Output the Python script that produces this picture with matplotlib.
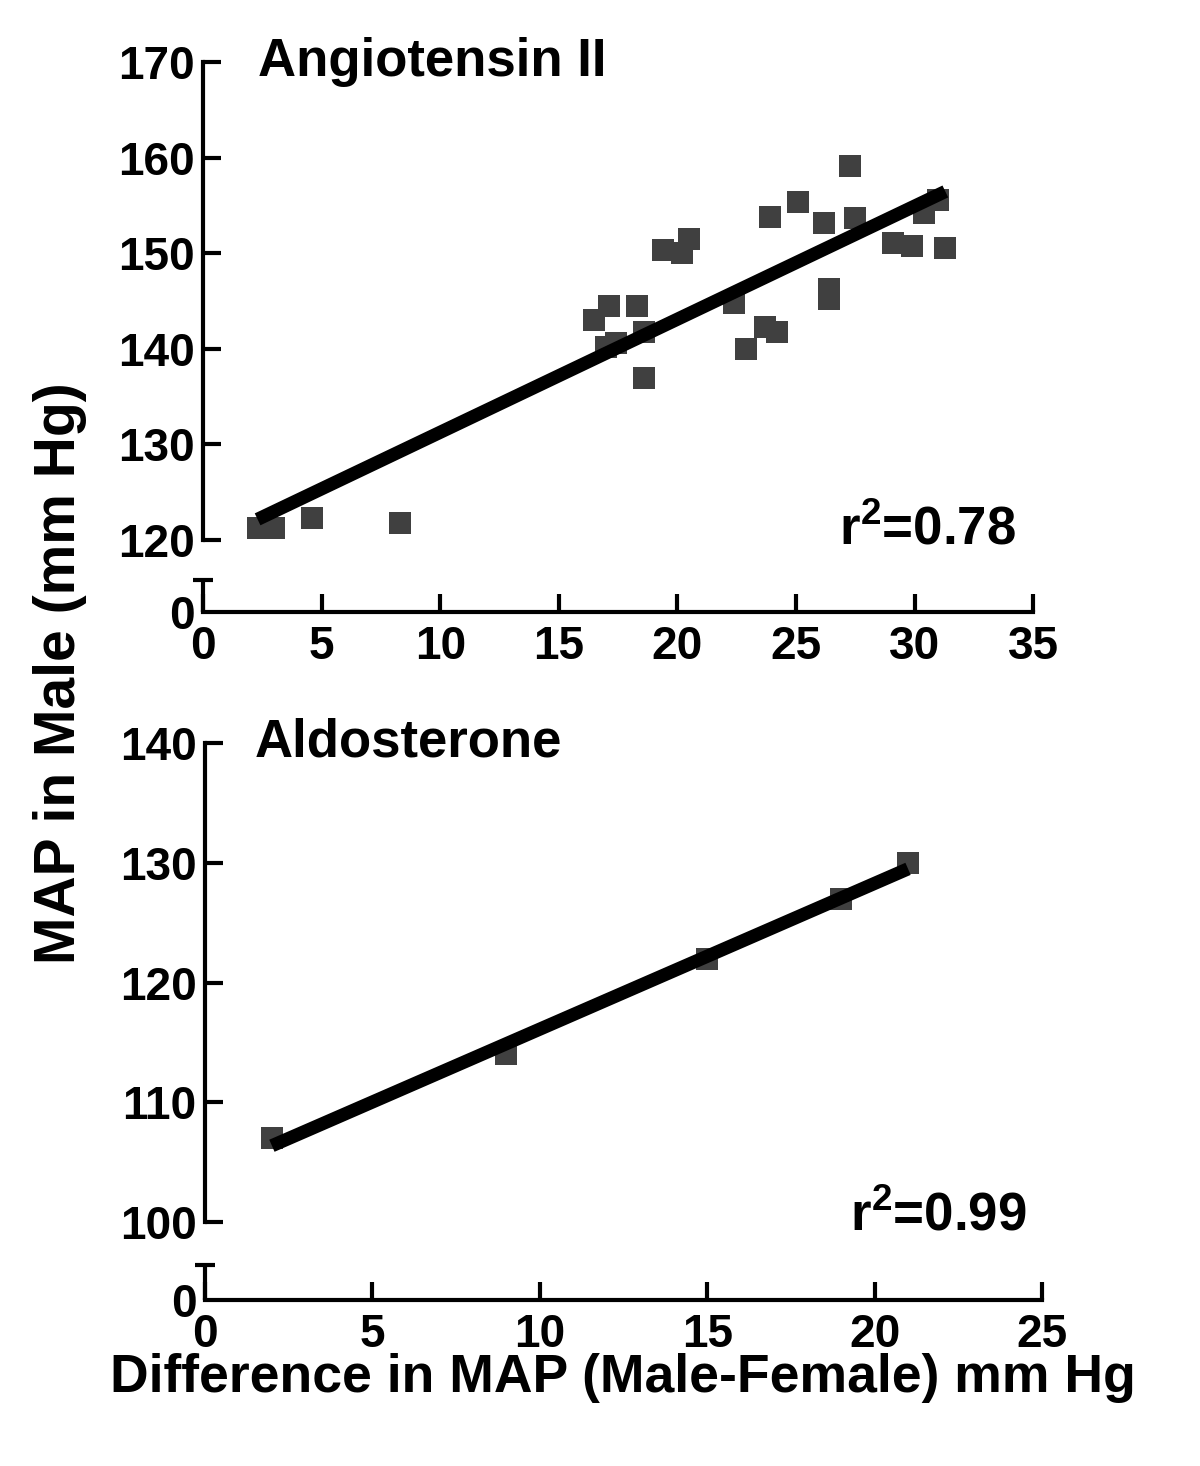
import numpy as np
import matplotlib
matplotlib.use('Agg')
from matplotlib import pyplot as plt

plt.rcParams['font.family'] = ['Liberation Sans', 'DejaVu Sans']
plt.rcParams['font.weight'] = 'bold'
plt.rcParams['mathtext.fontset'] = 'custom'
plt.rcParams['mathtext.rm'] = 'Liberation Sans:bold'
plt.rcParams['mathtext.it'] = 'Liberation Sans:bold'
plt.rcParams['mathtext.bf'] = 'Liberation Sans:bold'

# Angiotensin II panel
ang_x = [2.3, 3.0, 4.6, 8.3, 16.5, 17.0, 17.1, 17.4, 18.3, 18.6, 18.6, 19.4, 20.2, 20.5, 22.4,
         22.9, 23.7, 23.9, 24.2, 25.1, 26.2, 26.4, 26.4, 27.3, 27.5, 29.1, 29.9, 30.4, 31.0, 31.3]
ang_y = [121.3, 121.3, 122.3, 121.8, 143.0, 140.2, 144.5, 140.6, 144.5, 141.8, 136.9, 150.3, 150.0,
         151.5, 144.8, 140.0, 142.3, 153.8, 141.8, 155.4, 153.2, 146.3, 145.2, 159.1, 153.7, 151.1,
         150.8, 154.2, 155.6, 150.5]
ang_r2 = 0.78
ang_xticks = [0, 5, 10, 15, 20, 25, 30, 35]
ang_yticks = [120, 130, 140, 150, 160, 170]

# Aldosterone panel
ald_x = [2, 9, 15, 19, 21]
ald_y = [107, 114, 122, 127, 130]
ald_r2 = 0.99
ald_xticks = [0, 5, 10, 15, 20, 25]
ald_yticks = [100, 110, 120, 130, 140]

fig = plt.figure(figsize=(12, 14.66), dpi=100)
ax1 = fig.add_axes([0.1692, 0.5825, 0.6917, 0.3752])
ax2 = fig.add_axes([0.1708, 0.1132, 0.6975, 0.3800])


def panel(ax, x, y, r2, xticks, yticks, zero_pos, break_top, title, title_x, r2_x, r2_y):
    ax.plot(x, y, 's', color='#404040', markersize=16.5, markeredgewidth=0, zorder=2)
    k, b = np.polyfit(x, y, 1)
    xs = np.array([min(x), max(x)])
    ax.plot(xs, k * xs + b, color='black', lw=9.5, solid_capstyle='butt', zorder=3)

    ax.set_xlim(xticks[0], xticks[-1])
    ax.set_ylim(zero_pos, yticks[-1])
    ax.set_xticks(xticks)
    ax.set_yticks([zero_pos] + yticks)
    ax.set_yticklabels(['0'] + [str(t) for t in yticks])
    for s in ['top', 'right']:
        ax.spines[s].set_visible(False)
    for s in ['left', 'bottom']:
        ax.spines[s].set_linewidth(3)
    ax.spines['left'].set_bounds(yticks[0], yticks[-1])
    ax.tick_params(direction='in', length=13, width=3, labelsize=33)
    ax.tick_params(axis='y', pad=6)
    ax.tick_params(axis='x', pad=9)
    ax.yaxis.get_major_ticks()[0].tick1line.set_visible(False)
    for lab in ax.get_xticklabels() + ax.get_yticklabels():
        lab.set_fontweight('bold')

    # short axis piece below the break
    ax.plot([xticks[0], xticks[0]], [zero_pos, break_top], color='black', lw=3,
            clip_on=False, solid_capstyle='butt', zorder=4)
    ax.plot([xticks[0] - 0.012 * (xticks[-1] - xticks[0]), xticks[0] + 0.012 * (xticks[-1] - xticks[0])],
            [break_top, break_top], color='black', lw=3, clip_on=False,
            solid_capstyle='butt', zorder=4)

    ax.text(title_x, yticks[-1], title, fontsize=38, fontweight='bold', va='center', ha='left')
    ax.text(r2_x, r2_y, r'r$^{2}$=%.2f' % r2, fontsize=38, fontweight='bold',
            ha='right', va='baseline')


panel(ax1, ang_x, ang_y, ang_r2, ang_xticks, ang_yticks, 112.47, 115.8,
      'Angiotensin II', 2.3, 34.25, 119.5)
panel(ax2, ald_x, ald_y, ald_r2, ald_xticks, ald_yticks, 93.49, 96.4,
      'Aldosterone', 1.5, 24.55, 99.3)

fig.text(0.05, 0.541, 'MAP in Male (mm Hg)', rotation=90, fontsize=41, fontweight='bold',
         ha='center', va='center')
fig.text(0.519, 0.06, 'Difference in MAP (Male-Female) mm Hg', fontsize=38.5, fontweight='bold',
         ha='center', va='center')

fig.savefig('out.png', dpi=100)
